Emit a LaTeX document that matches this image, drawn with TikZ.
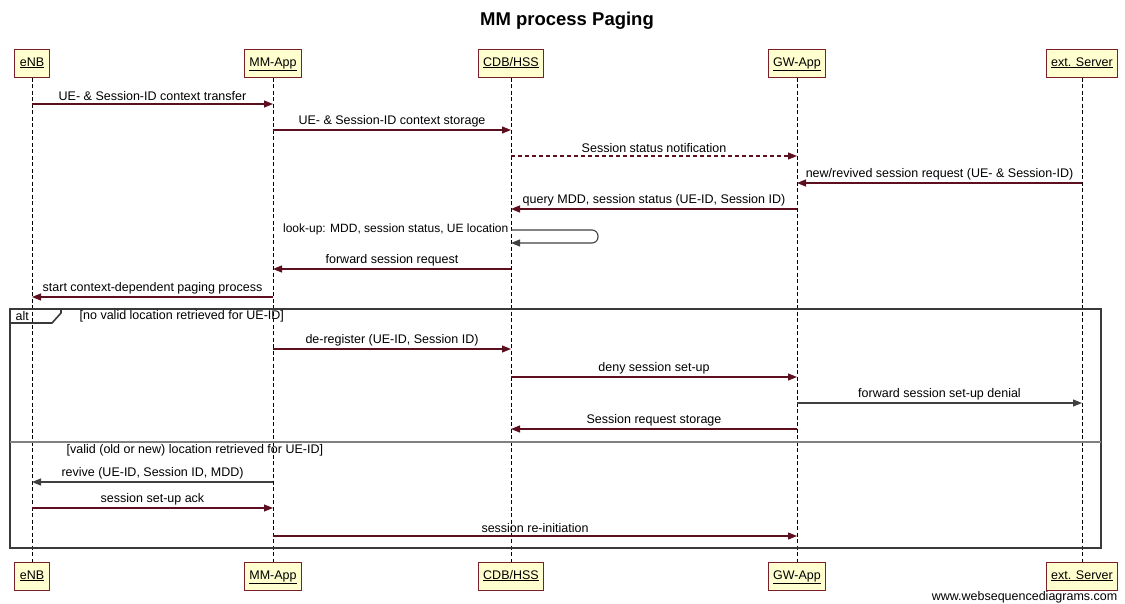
\documentclass[tikz,border=0pt]{standalone}
\usepackage{fontspec}
\setmainfont{Liberation Sans}
\usetikzlibrary{arrows.meta,positioning}
\definecolor{boxfill}{HTML}{FEFECE}
\definecolor{boxline}{HTML}{7A1E2A}
\definecolor{msgline}{HTML}{5C0F1E}
\definecolor{frameline}{HTML}{3A3A3A}
\tikzset{
  actor/.style={draw=boxline,fill=boxfill,line width=1pt,minimum height=28pt,inner xsep=5pt,
    text height=9pt,text depth=3pt,font=\fontsize{12.5}{14}\selectfont},
  life/.style={black,dash pattern=on 4pt off 2.5pt,line width=0.9pt},
  msg/.style={msgline,line width=1.1pt,-{Triangle[length=9pt,width=7pt]}},
  msgg/.style={msg,draw=darkgray},
  lbl/.style={text=black,font=\fontsize{12.5}{14}\selectfont,inner sep=1.5pt},
  frame/.style={frameline,line width=1.6pt}
}
\begin{document}
\begin{tikzpicture}[x=1pt,y=-1pt]
        \useasboundingbox (0,0) rectangle (1125,603);
        \node[font=\bfseries\fontsize{18.5}{21}\selectfont] (title) at (567,21) {MM process Paging};
        % participants
        \node[actor] (enbT) at (32,63) {\underline{eNB}};
        \node[actor] (mmT) at (273,63) {\underline{MM-App}};
        \node[actor] (cdbT) at (511,63) {\underline{CDB/HSS}};
        \node[actor] (gwT) at (797,63) {\underline{GW-App}};
        \node[actor] (extT) at (1082,63) {\underline{ext. Server}};
        \node[actor] (enbB) at (32,576) {\underline{eNB}};
        \node[actor] (mmB) at (273,576) {\underline{MM-App}};
        \node[actor] (cdbB) at (511,576) {\underline{CDB/HSS}};
        \node[actor] (gwB) at (797,576) {\underline{GW-App}};
        \node[actor] (extB) at (1082,576) {\underline{ext. Server}};
        \foreach \p in {enb,mm,cdb,gw,ext}
          \draw[life] (\p T) -- (\p B);
        % rows
        \foreach \n/\y in {1/104,2/130,3/156,4/183,5/209,6/230,6b/243,7/269,8/297,
                           9/349,10/377,11/403,12/429,13/482,14/508,15/536}
          \coordinate (r\n) at (0,\y);
        % alt frame
        \draw[frame] (10,309) rectangle (1101,548);
        \draw[frame] (10,323) -- (52,323) -- (61,313) -- (61,309);
        \node[lbl,anchor=west] (alt) at (14,316) {alt};
        \node[lbl,anchor=west] (cond1) at (78,316) {[no valid location retrieved for UE-ID]};
        \draw[gray,line width=1.6pt] (10,442) -- (1101,442);
        \node[lbl,anchor=west] (cond2) at (65,450) {[valid (old or new) location retrieved for UE-ID]};
        % messages
        \draw[msg] (enbT |- r1) -- node[lbl,above=1pt] {UE- \& Session-ID context transfer} (mmT |- r1);
        \draw[msg] (mmT |- r2) -- node[lbl,above=1pt] {UE- \& Session-ID context storage} (cdbT |- r2);
        \draw[msg,dash pattern=on 4pt off 3pt] (cdbT |- r3) -- node[lbl,above=1pt] {Session status notification} (gwT |- r3);
        \draw[msg] (extT |- r4) -- node[lbl,above=1pt] {new/revived session request (UE- \& Session-ID)} (gwT |- r4);
        \draw[msg] (gwT |- r5) -- node[lbl,above=1pt] {query MDD, session status (UE-ID, Session ID)} (cdbT |- r5);
        \draw[msgg,rounded corners=6pt] (cdbT |- r6) -- ++(87,0) |- (cdbT |- r6b);
        \node[lbl,anchor=east,font=\fontsize{12}{14}\selectfont] (lookup) at ([xshift=-1pt,yshift=1pt]cdbT |- r6) {look-up: MDD, session status, UE location};
        \draw[msg] (cdbT |- r7) -- node[lbl,above=1pt] {forward session request} (mmT |- r7);
        \draw[msg] (mmT |- r8) -- node[lbl,above=1pt] {start context-dependent paging process} (enbT |- r8);
        \draw[msg] (mmT |- r9) -- node[lbl,above=1pt] {de-register (UE-ID, Session ID)} (cdbT |- r9);
        \draw[msg] (cdbT |- r10) -- node[lbl,above=1pt] {deny session set-up} (gwT |- r10);
        \draw[msgg] (gwT |- r11) -- node[lbl,above=1pt] {forward session set-up denial} (extT |- r11);
        \draw[msg] (gwT |- r12) -- node[lbl,above=1pt] {Session request storage} (cdbT |- r12);
        \draw[msgg] (mmT |- r13) -- node[lbl,above=1pt] {revive (UE-ID, Session ID, MDD)} (enbT |- r13);
        \draw[msg] (enbT |- r14) -- node[lbl,above=1pt] {session set-up ack} (mmT |- r14);
        \draw[msg] (mmT |- r15) -- node[lbl,above=1pt] {session re-initiation} (gwT |- r15);
        \node[lbl,anchor=east] (footer) at (1119,597) {www.websequencediagrams.com};
\end{tikzpicture}
\end{document}
